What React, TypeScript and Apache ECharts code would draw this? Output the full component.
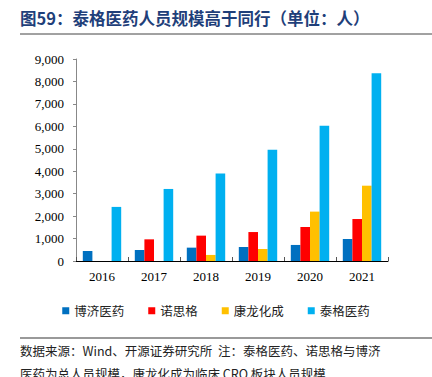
import React, { useEffect, useRef } from "react";
import * as echarts from "echarts";

const categories = ["2016", "2017", "2018", "2019", "2020", "2021"];
const seriesNames = ["博济医药", "诺思格", "康龙化成", "泰格医药"];
const bojiValues = [445, 490, 595, 625, 715, 980];
const nuosigeValues = [null, 965, 1130, 1290, 1515, 1870];
const kanglongValues = [null, null, 270, 535, 2200, 3355];
const taigeValues = [2410, 3210, 3900, 4960, 6030, 8360];
const colors = ["#0070C0", "#FF0000", "#FFC000", "#00B0F0"];
const yTicks = [0, 9000, 1000];

const titleText = "图59：泰格医药人员规模高于同行（单位：人）";
const sourceLine1 = "数据来源：Wind、开源证券研究所  注：泰格医药、诺思格与博济";
const sourceLine2 = "医药为总人员规模，康龙化成为临床 CRO 板块人员规模";

export default function App() {
  const ref = useRef<HTMLDivElement>(null);
  useEffect(() => {
    if (!ref.current) return;
    const chart = echarts.init(ref.current, null, { renderer: "svg" });
    const data = [bojiValues, nuosigeValues, kanglongValues, taigeValues];
    chart.setOption({
      animation: false,
      backgroundColor: "#ffffff",
      textStyle: { fontFamily: "Noto Sans CJK SC" },
      grid: { left: 76, right: 44, top: 59, bottom: 116, containLabel: false },
      legend: {
        bottom: 55,
        left: "center",
        itemWidth: 7,
        itemHeight: 7,
        itemGap: 24,
        icon: "rect",
        textStyle: { fontSize: 12.5, color: "#222", fontFamily: "Noto Sans CJK SC" },
        data: seriesNames,
      },
      xAxis: {
        type: "category",
        data: categories,
        axisLine: { lineStyle: { color: "#000", width: 1 } },
        axisTick: { show: true, inside: true, length: 4, lineStyle: { color: "#555" } },
        axisLabel: { fontFamily: "Liberation Serif", fontSize: 13, color: "#000", margin: 9 },
      },
      yAxis: {
        type: "value",
        min: yTicks[0],
        max: yTicks[1],
        interval: yTicks[2],
        axisLine: { show: true, lineStyle: { color: "#888", width: 1 } },
        axisTick: { show: true, length: 3, lineStyle: { color: "#888" } },
        splitLine: { show: false },
        axisLabel: {
          fontFamily: "Liberation Serif",
          fontSize: 13,
          color: "#000",
          margin: 12,
          formatter: (v: number) => v.toLocaleString("en-US"),
        },
      },
      series: seriesNames.map((name, i) => ({
        name,
        type: "bar",
        data: data[i],
        barWidth: 9.6,
        barGap: "0%",
        barCategoryGap: "26%",
        itemStyle: { color: colors[i] },
      })),
      graphic: [
        {
          type: "text",
          left: 20,
          top: 10,
          style: {
            text: titleText,
            fontSize: 16.5,
            fontWeight: "bold",
            fill: "#1F3F7A",
            fontFamily: "Noto Sans CJK SC",
          },
        },
        {
          type: "line",
          shape: { x1: 20, y1: 34, x2: 432, y2: 34 },
          style: { stroke: "#444", lineWidth: 1 },
        },
        {
          type: "line",
          shape: { x1: 20, y1: 338, x2: 432, y2: 338 },
          style: { stroke: "#999", lineWidth: 2 },
        },
        {
          type: "text",
          left: 20,
          top: 344,
          style: { text: sourceLine1, fontSize: 12.5, fill: "#222", fontFamily: "Noto Sans CJK SC" },
        },
        {
          type: "text",
          left: 20,
          top: 367,
          style: { text: sourceLine2, fontSize: 12.5, fill: "#222", fontFamily: "Noto Sans CJK SC" },
        },
      ],
    });
    return () => chart.dispose();
  }, []);
  return <div ref={ref} style={{ width: 432, height: 377, position: "absolute", left: 0, top: 0 }} />;
}
